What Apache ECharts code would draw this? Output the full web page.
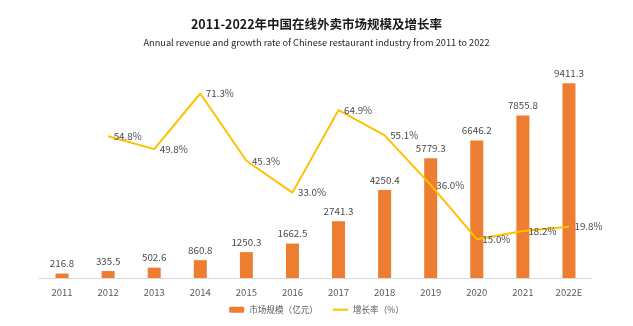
<!DOCTYPE html>
<html><head><meta charset="utf-8">
<script src="https://cdn.jsdelivr.net/npm/echarts@6/dist/echarts.min.js"></script>
<style>html,body{margin:0;padding:0;background:#fff}#c{width:633px;height:326px}</style>
</head><body><div id="c"></div>
<script>
const categories = ['2011','2012','2013','2014','2015','2016','2017','2018','2019','2020','2021','2022E'];
const marketSize = [216.8,335.5,502.6,860.8,1250.3,1662.5,2741.3,4250.4,5779.3,6646.2,7855.8,9411.3];
const growthRate = [null,54.8,49.8,71.3,45.3,33.0,64.9,55.1,36.0,15.0,18.2,19.8];
const titleText = '2011-2022年中国在线外卖市场规模及增长率';
const subtitleText = 'Annual revenue and growth rate of Chinese restaurant industry from 2011 to 2022';
const seriesNames = ['市场规模（亿元）','增长率（%）'];

const FONT = '"Noto Sans CJK SC", "Noto Sans", sans-serif';
const chart = echarts.init(document.getElementById('c'), null, {renderer:'canvas'});
chart.setOption({
  animation:false,
  backgroundColor:'#fff',
  textStyle:{fontFamily:FONT},
  title:[
    {text:titleText,left:'center',top:13,textStyle:{fontFamily:FONT,fontSize:12.5,fontWeight:'bold',color:'#1a1a1a'}},
    {text:subtitleText,left:'center',top:33,textStyle:{fontFamily:FONT,fontSize:9.2,fontWeight:'normal',color:'#262626'}}
  ],
  legend:{
    bottom:7,left:'center',itemWidth:15,itemHeight:6,itemGap:15,itemStyle:{borderWidth:0},
    textStyle:{fontFamily:FONT,fontSize:8.6,color:'#595959'},
    data:[{name:seriesNames[0]},
          {name:seriesNames[1],icon:'path://M0,0H15V2H0Z',itemStyle:{color:'#FFC000',opacity:1,borderWidth:0}}]
  },
  grid:{left:39,right:41,top:71,bottom:48,containLabel:false},
  xAxis:{
    type:'category',data:categories,
    axisLine:{lineStyle:{color:'#D9D9D9',width:1}},
    axisTick:{show:false},
    axisLabel:{fontFamily:FONT,fontSize:9.5,color:'#595959',margin:10}
  },
  yAxis:[
    {type:'value',min:0,max:10000,show:false,splitLine:{show:false}},
    {type:'value',min:0,max:80,show:false,splitLine:{show:false}}
  ],
  series:[
    {name:seriesNames[0],type:'bar',data:marketSize,barWidth:13,
     itemStyle:{color:'#ED7D31'},
     label:{show:true,position:'top',distance:5,fontFamily:FONT,fontSize:9.8,color:'#4a4a4a'}},
    {name:seriesNames[1],type:'line',yAxisIndex:1,data:growthRate,
     symbol:'circle',symbolSize:1,showSymbol:true,connectNulls:false,
     lineStyle:{color:'#FFC000',width:2},itemStyle:{color:'rgba(255,192,0,0)',borderWidth:0},
     label:{show:true,position:'right',distance:5,fontFamily:FONT,fontSize:9.8,color:'#4a4a4a',
       formatter:p=>p.value==null?'':p.value.toFixed(1)+'%'}}
  ]
});
</script></body></html>
